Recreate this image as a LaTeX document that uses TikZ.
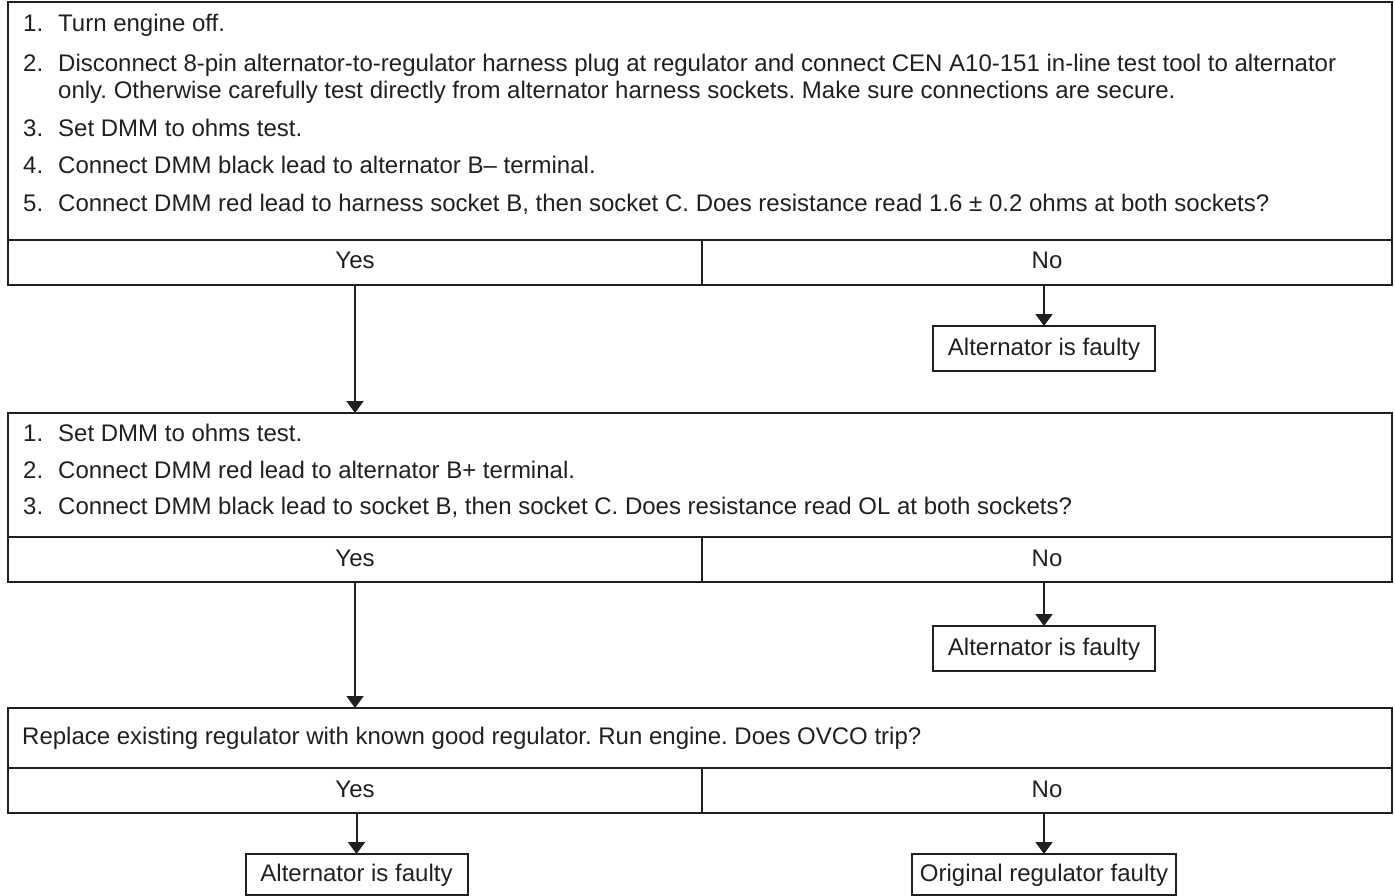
\documentclass[tikz,border=0pt]{standalone}
\usepackage{fontspec}
\setmainfont{Liberation Sans}
\usetikzlibrary{arrows.meta}
\definecolor{ink}{RGB}{35,31,32}
\frenchspacing
\tikzset{
  frame/.style={draw=ink, line width=2pt, inner sep=0pt, outer sep=0pt},
  cell/.style={frame, font=\fontsize{24}{28}\selectfont, text=ink, text height=18pt, text depth=5pt},
  txt/.style={anchor=west, inner sep=0pt, font=\fontsize{24}{28}\selectfont, text=ink, text height=18pt, text depth=5pt},
  flow/.style={draw=ink, line width=2pt, -{Triangle[width=17pt,length=12pt]}}
}
\begin{document}
\begin{tikzpicture}[x=1pt,y=-1pt]
\useasboundingbox (0,0) rectangle (1395,896);

% first test
\node[frame, minimum width=1384pt, minimum height=238pt] (q1) at (700,121) {};
\node[txt] (n11) at (23,25) {1.}; \node[txt] (t11) at (58,25) {Turn engine off.};
\node[txt] (n12) at (23,65) {2.}; \node[txt] (t12) at (58,65) {Disconnect 8-pin alternator-to-regulator harness plug at regulator and connect CEN A10-151 in-line test tool to alternator};
\node[txt] (t12b) at (58,92) {only. Otherwise carefully test directly from alternator harness sockets. Make sure connections are secure.};
\node[txt] (n13) at (23,130) {3.}; \node[txt] (t13) at (58,130) {Set DMM to ohms test.};
\node[txt] (n14) at (23,167) {4.}; \node[txt] (t14) at (58,167) {Connect DMM black lead to alternator B– terminal.};
\node[txt] (n15) at (23,205) {5.}; \node[txt] (t15) at (58,205) {Connect DMM red lead to harness socket B, then socket C. Does resistance read 1.6 ± 0.2 ohms at both sockets?};
\node[cell, minimum width=694pt, minimum height=45pt] (yes1) at (355,262.5) {Yes};
\node[cell, minimum width=690pt, minimum height=45pt] (no1) at (1047,262.5) {No};
\node[cell, minimum width=222pt, minimum height=45pt] (fault1) at (1044,348.5) {Alternator is faulty};

% second test
\node[frame, minimum width=1384pt, minimum height=124pt] (q2) at (700,475) {};
\node[txt] (n21) at (23,435) {1.}; \node[txt] (t21) at (58,435) {Set DMM to ohms test.};
\node[txt] (n22) at (23,472) {2.}; \node[txt] (t22) at (58,472) {Connect DMM red lead to alternator B+ terminal.};
\node[txt] (n23) at (23,508) {3.}; \node[txt] (t23) at (58,508) {Connect DMM black lead to socket B, then socket C. Does resistance read OL at both sockets?};
\node[cell, minimum width=694pt, minimum height=45pt] (yes2) at (355,559.5) {Yes};
\node[cell, minimum width=690pt, minimum height=45pt] (no2) at (1047,559.5) {No};
\node[cell, minimum width=222pt, minimum height=45pt] (fault2) at (1044,648.5) {Alternator is faulty};

% third test
\node[frame, minimum width=1384pt, minimum height=60pt] (q3) at (700,738) {};
\node[txt] (t31) at (22,738) {Replace existing regulator with known good regulator. Run engine. Does OVCO trip?};
\node[cell, minimum width=694pt, minimum height=45pt] (yes3) at (355,790.5) {Yes};
\node[cell, minimum width=690pt, minimum height=45pt] (no3) at (1047,790.5) {No};
\node[cell, minimum width=222pt, minimum height=41pt] (fault3) at (356.5,874.5) {Alternator is faulty};
\node[cell, inner xsep=8pt, minimum height=41pt] (orig) at (1044,874.5) {Original regulator faulty};

\draw[flow] (yes1.south) -- (yes1.south |- q2.north);
\draw[flow] (fault1.north |- no1.south) -- (fault1.north);
\draw[flow] (yes2.south) -- (yes2.south |- q3.north);
\draw[flow] (fault2.north |- no2.south) -- (fault2.north);
\draw[flow] (fault3.north |- yes3.south) -- (fault3.north);
\draw[flow] (orig.north |- no3.south) -- (orig.north);
\end{tikzpicture}
\end{document}
